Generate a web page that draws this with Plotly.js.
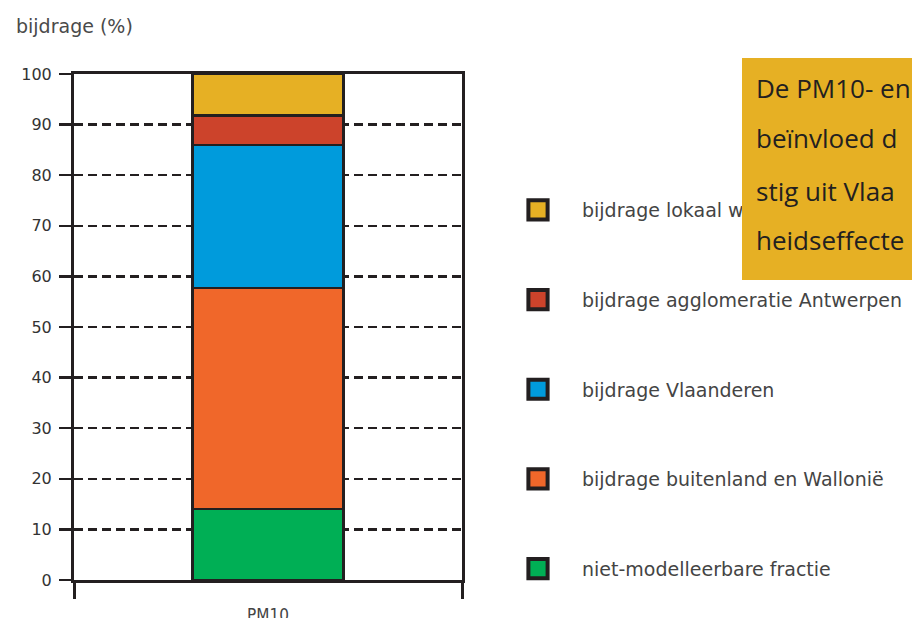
<!DOCTYPE html>
<html>
<head>
<meta charset="utf-8">
<script src="https://cdn.plot.ly/plotly-3.0.1.min.js"></script>
<style>
  html, body { margin: 0; padding: 0; background: #ffffff; }
  #chart { width: 912px; height: 618px; }
</style>
</head>
<body>
<div id="chart"></div>
<script>
// ---- data ----
const categories = ['PM10'];
const seriesNames = [
  'niet-modelleerbare fractie',
  'bijdrage buitenland en Wallonië',
  'bijdrage Vlaanderen',
  'bijdrage agglomeratie Antwerpen',
  'bijdrage lokaal wegverkeer'
];
const nietModelleerbaar = [14.0];
const buitenlandWallonie = [43.7];
const vlaanderen = [28.3];
const agglomeratieAntwerpen = [5.8];
const lokaal = [8.2];
const seriesColors = ['#00AF55', '#F0672A', '#009BDC', '#CC432B', '#E6B024'];
const yTickValues = [0, 10, 20, 30, 40, 50, 60, 70, 80, 90, 100];
const boxLines = ['De PM10- en', 'beïnvloed d', 'stig uit Vlaa', 'heidseffecte'];

const seriesValues = [nietModelleerbaar, buitenlandWallonie, vlaanderen, agglomeratieAntwerpen, lokaal];
const ink = '#231F20';

const traces = seriesValues.map((vals, i) => ({
  type: 'bar',
  x: categories.map((_, k) => k),
  y: vals,
  name: seriesNames[i],
  legendgroup: 'g' + i,
  legendrank: (seriesValues.length - i) * 10,
  width: 0.39,
  marker: { color: seriesColors[i], line: { color: ink, width: 2.5 } },
  hoverinfo: 'name+y'
}));

const plotL = 74, plotR = 462, plotT = 74, plotB = 580;
const pw = plotR - plotL, ph = plotB - plotT;
const px = (x) => (x - plotL) / pw;
const py = (y) => (plotB - y) / ph;

const annotations = [];
// yellow text box
annotations.push({
  xref: 'paper', yref: 'paper',
  x: px(742), y: py(58), xanchor: 'left', yanchor: 'top',
  text: ' ', showarrow: false,
  width: 200, height: 222,
  bgcolor: '#E6B024', borderpad: 0, borderwidth: 0
});
const lineYs = [88, 138, 191, 240];
boxLines.forEach((t, i) => {
  annotations.push({
    xref: 'paper', yref: 'paper',
    x: px(754), y: py(lineYs[i]), xanchor: 'left', yanchor: 'middle',
    text: t, showarrow: false,
    font: { family: 'Open Sans, sans-serif', size: 26, color: ink }
  });
});

const layout = {
  width: 912, height: 618,
  margin: { l: plotL, r: 912 - plotR, t: plotT, b: 618 - plotB, pad: 0, autoexpand: false },
  paper_bgcolor: '#ffffff', plot_bgcolor: '#ffffff',
  barmode: 'stack',
  showlegend: true,
  title: {
    text: 'bijdrage (%)',
    x: 16 / 912, xanchor: 'left', xref: 'container',
    y: 1 - 26 / 618, yanchor: 'middle', yref: 'container',
    font: { family: 'DejaVu Sans, sans-serif', size: 19, color: '#4a4a4a' }
  },
  xaxis: {
    type: 'linear',
    range: [-0.5, 0.5],
    tickmode: 'array',
    tickvals: categories.map((_, k) => k),
    ticktext: categories,
    ticks: '',
    ticklabelstandoff: 18,
    tickfont: { family: 'DejaVu Sans Condensed, DejaVu Sans, sans-serif', size: 17, color: '#444444' },
    minor: { tickmode: 'array', tickvals: [-0.5, 0.5], ticks: 'outside', ticklen: 16, tickwidth: 3, tickcolor: ink, showgrid: false },
    showline: true, linecolor: ink, linewidth: 3, mirror: true,
    showgrid: false, zeroline: false, fixedrange: true
  },
  yaxis: {
    range: [0, 100],
    tickmode: 'array',
    tickvals: yTickValues,
    ticktext: yTickValues.map(String),
    ticks: 'outside', ticklen: 12, tickwidth: 2.5, tickcolor: ink,
    ticklabelstandoff: 4,
    tickfont: { family: 'DejaVu Sans, sans-serif', size: 16, color: '#333333' },
    showline: true, linecolor: ink, linewidth: 3, mirror: true,
    showgrid: true, gridcolor: ink, gridwidth: 2.5, griddash: '9px,5px',
    zeroline: false, fixedrange: true
  },
  legend: {
    x: px(494), xanchor: 'left',
    y: py(191), yanchor: 'top',
    traceorder: 'grouped',
    tracegroupgap: 62,
    itemwidth: 78,
    bgcolor: 'rgba(0,0,0,0)',
    font: { family: 'DejaVu Sans, sans-serif', size: 19, color: '#444444' }
  },
  annotations: annotations
};

Plotly.newPlot('chart', traces, layout, { displayModeBar: false, staticPlot: true }).then(() => {
  document.querySelectorAll('.legend .legendpoints path').forEach(p => {
    const t = p.getAttribute('transform') || '';
    p.setAttribute('transform', t + ' scale(1.6)');
  });
});
</script>
</body>
</html>
